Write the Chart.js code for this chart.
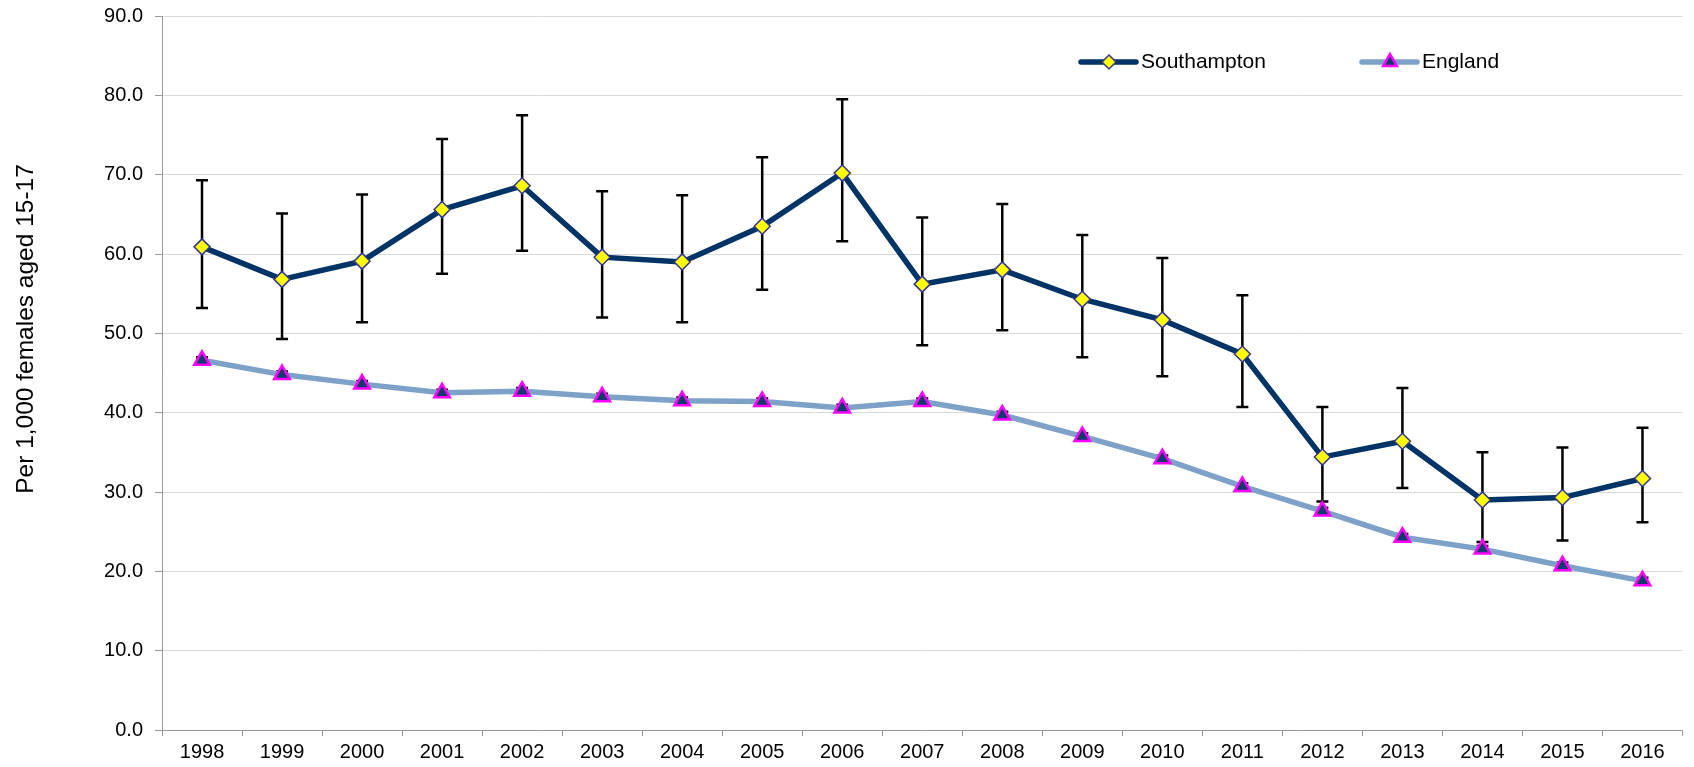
<!DOCTYPE html>
<html>
<head>
<meta charset="utf-8">
<script src="https://cdn.jsdelivr.net/npm/chart.js@4/dist/chart.umd.min.js"></script>
<style>
  html, body { margin: 0; padding: 0; background: #fff; }
  #wrap { width: 1694px; height: 767px; position: relative; }
</style>
</head>
<body>
<div id="wrap"><canvas id="chart"></canvas></div>
<script>
const years = ["1998", "1999", "2000", "2001", "2002", "2003", "2004", "2005", "2006", "2007",
  "2008", "2009", "2010", "2011", "2012", "2013", "2014", "2015", "2016"];

const soton = [60.9, 56.8, 59.1, 65.6, 68.6, 59.6, 59.0, 63.5, 70.2, 56.2,
  58.0, 54.3, 51.7, 47.4, 34.4, 36.4, 29.0, 29.3, 31.7];
const sotonLow = [53.2, 49.3, 51.4, 57.5, 60.4, 52.0, 51.4, 55.5, 61.6, 48.5,
  50.4, 47.0, 44.6, 40.7, 28.8, 30.5, 23.7, 23.9, 26.2];
const sotonHigh = [69.3, 65.1, 67.5, 74.5, 77.5, 67.9, 67.4, 72.2, 79.5, 64.6,
  66.3, 62.4, 59.5, 54.8, 40.7, 43.1, 35.0, 35.6, 38.1];

const england = [46.6, 44.8, 43.6, 42.5, 42.7, 42.0, 41.5, 41.4, 40.6, 41.4,
  39.7, 37.0, 34.2, 30.7, 27.6, 24.3, 22.8, 20.7, 18.8];
const englandLow = [46.2, 44.4, 43.2, 42.1, 42.3, 41.6, 41.1, 41.0, 40.2, 41.0,
  39.3, 36.6, 33.8, 30.3, 27.2, 23.9, 22.4, 20.3, 18.4];
const englandHigh = [47.0, 45.2, 44.0, 42.9, 43.1, 42.4, 41.9, 41.8, 41.0, 41.8,
  40.1, 37.4, 34.6, 31.1, 28.0, 24.7, 23.2, 21.1, 19.2];

const yTicks = [0, 10, 20, 30, 40, 50, 60, 70, 80, 90];
const yTitle = "Per 1,000 females aged 15-17";

const FONT = "Arial, 'Liberation Sans', sans-serif";
const NAVY = "#003366";
const LIGHT = "#7ea1c8";

// error bars, drawn under the lines and markers
const errorBars = {
  id: "errorBars",
  beforeDatasetsDraw(chart) {
    const { ctx, scales: { x, y } } = chart;
    const sets = [[sotonLow, sotonHigh], [englandLow, englandHigh]];
    ctx.save();
    ctx.strokeStyle = "#000";
    ctx.lineWidth = 2.5;
    sets.forEach(([lo, hi]) => {
      lo.forEach((v, i) => {
        const px = x.getPixelForValue(i);
        const y1 = y.getPixelForValue(v);
        const y2 = y.getPixelForValue(hi[i]);
        ctx.beginPath();
        ctx.moveTo(px, y1); ctx.lineTo(px, y2);
        ctx.moveTo(px - 6, y1); ctx.lineTo(px + 6, y1);
        ctx.moveTo(px - 6, y2); ctx.lineTo(px + 6, y2);
        ctx.stroke();
      });
    });
    ctx.restore();
  },
};

// legend inside the plot + the offset y axis title
const extras = {
  id: "extras",
  afterDraw(chart) {
    const ctx = chart.ctx;
    const items = [
      { ds: chart.data.datasets[0], x: 1081, label: "Southampton" },
      { ds: chart.data.datasets[1], x: 1362, label: "England" },
    ];
    const ly = 62;
    ctx.save();
    items.forEach((it) => {
      ctx.strokeStyle = it.ds.borderColor;
      ctx.lineWidth = it.ds.borderWidth;
      ctx.lineCap = "round";
      ctx.beginPath();
      ctx.moveTo(it.x, ly); ctx.lineTo(it.x + 55, ly);
      ctx.stroke();
      ctx.fillStyle = it.ds.pointBackgroundColor;
      ctx.strokeStyle = it.ds.pointBorderColor;
      ctx.lineWidth = it.ds.pointBorderWidth;
      Chart.helpers.drawPoint(ctx, {
        pointStyle: it.ds.pointStyle,
        radius: it.ds.pointRadius - 1,
        rotation: 0,
        borderWidth: it.ds.pointBorderWidth,
      }, it.x + 28, ly);
      ctx.fillStyle = "#000";
      ctx.font = "21px " + FONT;
      ctx.textBaseline = "middle";
      ctx.textAlign = "left";
      ctx.fillText(it.label, it.x + 60, ly);
    });

    ctx.translate(26, 329);
    ctx.rotate(-Math.PI / 2);
    ctx.font = "24.5px " + FONT;
    ctx.fillStyle = "#000";
    ctx.textAlign = "center";
    ctx.textBaseline = "middle";
    ctx.fillText(yTitle, 0, 0);
    ctx.restore();
  },
};

new Chart(document.getElementById("chart"), {
  type: "line",
  data: {
    labels: years,
    datasets: [
      {
        label: "Southampton",
        data: soton,
        borderColor: NAVY,
        borderWidth: 5.5,
        pointStyle: "rectRot",
        pointRadius: 8,
        pointBackgroundColor: "#ffff00",
        pointBorderColor: "#333399",
        pointBorderWidth: 1.5,
        tension: 0,
      },
      {
        label: "England",
        data: england,
        borderColor: LIGHT,
        borderWidth: 5.5,
        pointStyle: "triangle",
        pointRadius: 9,
        pointBackgroundColor: "#0f3a6a",
        pointBorderColor: "#ff00ff",
        pointBorderWidth: 2.5,
        tension: 0,
      },
    ],
  },
  options: {
    responsive: true,
    maintainAspectRatio: false,
    animation: false,
    layout: { padding: { top: 16, right: 1, left: 0, bottom: 0 } },
    plugins: { legend: { display: false }, tooltip: { enabled: false } },
    scales: {
      x: {
        offset: true,
        grid: { offset: true, drawOnChartArea: false, tickLength: 6, color: "#999" },
        border: { color: "#999", width: 1 },
        ticks: { color: "#000", font: { family: FONT, size: 20 }, padding: 4, maxRotation: 0 },
        afterFit(s) { s.height = 37; },
      },
      y: {
        min: 0,
        max: 90,
        afterBuildTicks(s) { s.ticks = yTicks.map((v) => ({ value: v })); },
        grid: { color: "#d9d9d9", tickColor: "#999", tickLength: 7 },
        border: { color: "#999", width: 1 },
        ticks: {
          color: "#000",
          font: { family: FONT, size: 20 },
          padding: 12,
          callback: (v) => Number(v).toFixed(1),
        },
        afterFit(s) {
          s.width = 162;
          s.paddingTop = 0;
          s.paddingBottom = 0;
        },
      },
    },
  },
  plugins: [errorBars, extras],
});
</script>
</body>
</html>
